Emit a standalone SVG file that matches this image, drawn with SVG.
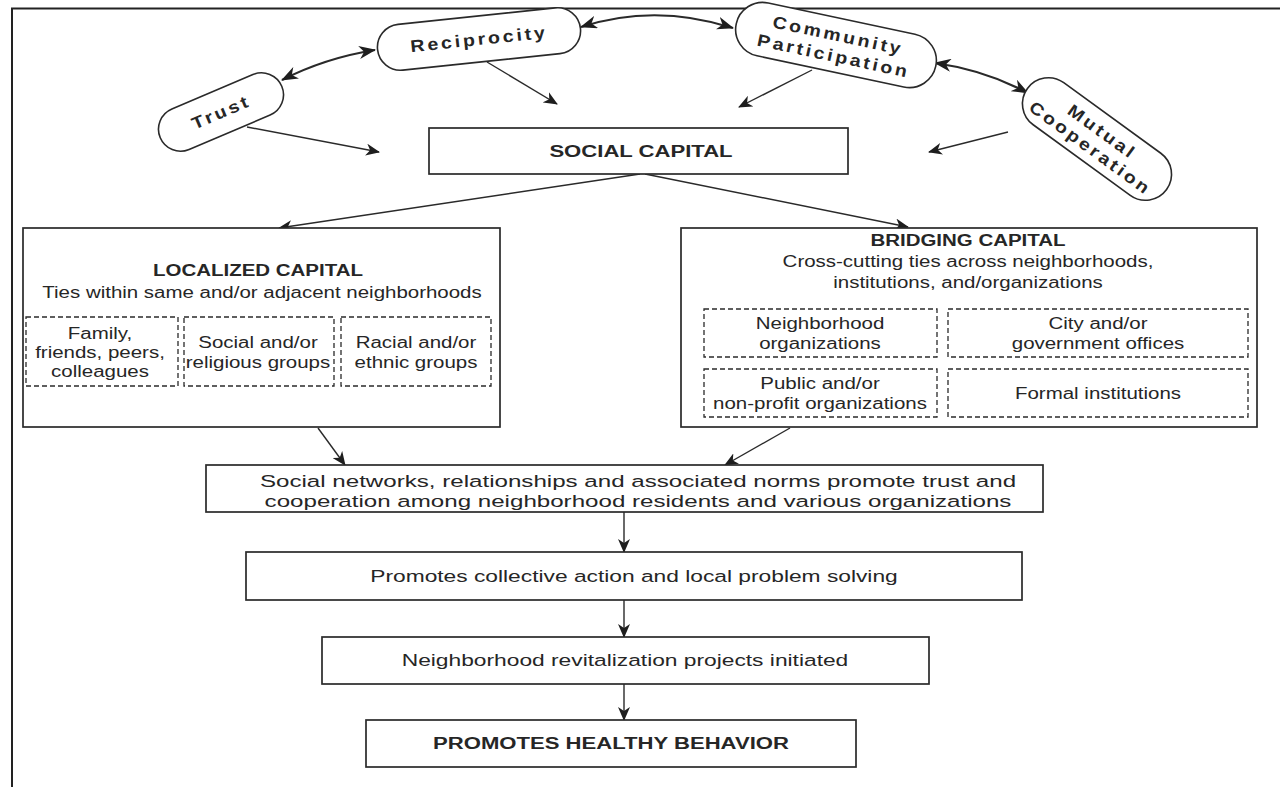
<svg xmlns="http://www.w3.org/2000/svg" width="1280" height="787" viewBox="0 0 1280 787">
<defs>
<marker id="ah" viewBox="0 0 14 12" refX="13" refY="6" markerWidth="14" markerHeight="12" markerUnits="userSpaceOnUse" orient="auto-start-reverse">
<path d="M0,0 L14,6 L0,12 L4,6 Z" fill="#1e1e1e"/>
</marker>
<marker id="ahb" viewBox="0 0 17 13" refX="16" refY="6.5" markerWidth="17" markerHeight="13" markerUnits="userSpaceOnUse" orient="auto-start-reverse">
<path d="M0,0 L17,6.5 L0,13 L5,6.5 Z" fill="#1e1e1e"/>
</marker>
</defs>
<style>
.box{fill:#fff;stroke:#2a2a2a;stroke-width:1.7}
.dash{fill:none;stroke:#2a2a2a;stroke-width:1.3;stroke-dasharray:5,3}
.pill{fill:#fff;stroke:#2a2a2a;stroke-width:1.6}
.t{font-family:"Liberation Sans",Arial,sans-serif;font-size:16px;fill:#262626;text-anchor:middle}
.big{font-size:17px}
.b{font-weight:bold}
.pt{font-family:"Liberation Sans",Arial,sans-serif;font-size:17px;font-weight:bold;fill:#262626;text-anchor:middle;letter-spacing:2.5px}
.ln{fill:none;stroke:#2a2a2a;stroke-width:1.4;marker-end:url(#ah)}
.dl{fill:none;stroke:#2a2a2a;stroke-width:2.2;marker-start:url(#ahb);marker-end:url(#ahb)}
</style>
<rect width="1280" height="787" fill="#fff"/>
<g id="frame"><path d="M12,787 L12,8.5 L1280,8.5" fill="none" stroke="#222" stroke-width="2"/></g>

<g id="connectors">
<path class="dl" d="M282,80 Q325,58 375,50"/>
<path class="dl" d="M581,27 Q655,3 733,28"/>
<path class="dl" d="M935,63 Q985,70 1028,93"/>
<path class="ln" d="M247,127 L379,152"/>
<path class="ln" d="M487,62 L557,104"/>
<path class="ln" d="M812,70 L739,107"/>
<path class="ln" d="M1008,132 L929,152"/>
<path class="ln" d="M640,174 L279,228"/>
<path class="ln" d="M645,174 L908,227"/>
<path class="ln" d="M318,428 L345,465"/>
<path class="ln" d="M790,428 L725,465"/>
<path class="ln" d="M624,512 L624,552"/>
<path class="ln" d="M624,600 L624,637"/>
<path class="ln" d="M624,684 L624,720"/>
</g>

<g id="trust" transform="translate(221,112) rotate(-23)">
<rect class="pill" x="-66" y="-22" width="132" height="44" rx="22"/>
<text class="pt" transform="translate(0,6) scale(1.15,1)">Trust</text>
</g>
<g id="reciprocity" transform="translate(479,39) rotate(-6)">
<rect class="pill" x="-102" y="-23" width="204" height="46" rx="23"/>
<text class="pt" transform="translate(0,6) scale(1.15,1)">Reciprocity</text>
</g>
<g id="community" transform="translate(836,45) rotate(12)">
<rect class="pill" x="-102" y="-27" width="204" height="54" rx="27"/>
<text class="pt" transform="translate(0,-4) scale(1.15,1)">Community</text>
<text class="pt" transform="translate(0,17) scale(1.15,1)">Participation</text>
</g>
<g id="mutual" transform="translate(1097,139) rotate(36)">
<rect class="pill" x="-86" y="-26" width="172" height="52" rx="26"/>
<text class="pt" transform="translate(0,-3) scale(1.15,1)">Mutual</text>
<text class="pt" transform="translate(0,17) scale(1.15,1)">Cooperation</text>
</g>

<g id="social-capital">
<rect class="box" x="429" y="128" width="419" height="46"/>
<text class="t b big" transform="translate(641,157) scale(1.3,1)">SOCIAL CAPITAL</text>
</g>

<g id="localized">
<rect class="box" x="23" y="228" width="477" height="199"/>
<text class="t b" transform="translate(258,276) scale(1.28,1)">LOCALIZED CAPITAL</text>
<text class="t" transform="translate(262,298) scale(1.28,1)">Ties within same and/or adjacent neighborhoods</text>
<g id="family">
<rect class="dash" x="26" y="317" width="152" height="69"/>
<text class="t" transform="translate(100,339) scale(1.28,1)">Family,</text>
<text class="t" transform="translate(100,358) scale(1.28,1)">friends, peers,</text>
<text class="t" transform="translate(100,377) scale(1.28,1)">colleagues</text>
</g>
<g id="social-groups">
<rect class="dash" x="184" y="317" width="150" height="69"/>
<text class="t" transform="translate(258,348) scale(1.28,1)">Social and/or</text>
<text class="t" transform="translate(258,368) scale(1.28,1)">religious groups</text>
</g>
<g id="racial-groups">
<rect class="dash" x="341" y="317" width="150" height="69"/>
<text class="t" transform="translate(416,348) scale(1.28,1)">Racial and/or</text>
<text class="t" transform="translate(416,368) scale(1.28,1)">ethnic groups</text>
</g>
</g>

<g id="bridging">
<rect class="box" x="681" y="228" width="576" height="199"/>
<text class="t b" transform="translate(968,246) scale(1.28,1)">BRIDGING CAPITAL</text>
<text class="t" transform="translate(968,267) scale(1.28,1)">Cross-cutting ties across neighborhoods,</text>
<text class="t" transform="translate(968,288) scale(1.28,1)">institutions, and/organizations</text>
<g id="neigh-org">
<rect class="dash" x="704" y="309" width="233" height="48"/>
<text class="t" transform="translate(820,329) scale(1.28,1)">Neighborhood</text>
<text class="t" transform="translate(820,349) scale(1.28,1)">organizations</text>
</g>
<g id="city">
<rect class="dash" x="948" y="309" width="300" height="48"/>
<text class="t" transform="translate(1098,329) scale(1.28,1)">City and/or</text>
<text class="t" transform="translate(1098,349) scale(1.28,1)">government offices</text>
</g>
<g id="public">
<rect class="dash" x="704" y="369" width="233" height="48"/>
<text class="t" transform="translate(820,389) scale(1.28,1)">Public and/or</text>
<text class="t" transform="translate(820,409) scale(1.28,1)">non-profit organizations</text>
</g>
<g id="formal">
<rect class="dash" x="948" y="369" width="300" height="48"/>
<text class="t" transform="translate(1098,399) scale(1.28,1)">Formal institutions</text>
</g>
</g>

<g id="social-networks">
<rect class="box" x="206" y="465" width="837" height="47"/>
<text class="t big" transform="translate(638,487) scale(1.42,1)">Social networks, relationships and associated norms promote trust and</text>
<text class="t big" transform="translate(638,507) scale(1.42,1)">cooperation among neighborhood residents and various organizations</text>
</g>
<g id="collective-action">
<rect class="box" x="246" y="552" width="776" height="48"/>
<text class="t big" transform="translate(634,582) scale(1.34,1)">Promotes collective action and local problem solving</text>
</g>
<g id="revitalization">
<rect class="box" x="322" y="637" width="607" height="47"/>
<text class="t big" transform="translate(625,666) scale(1.34,1)">Neighborhood revitalization projects initiated</text>
</g>
<g id="healthy-behavior">
<rect class="box" x="366" y="720" width="490" height="47"/>
<text class="t b big" transform="translate(611,749) scale(1.3,1)">PROMOTES HEALTHY BEHAVIOR</text>
</g>
</svg>
